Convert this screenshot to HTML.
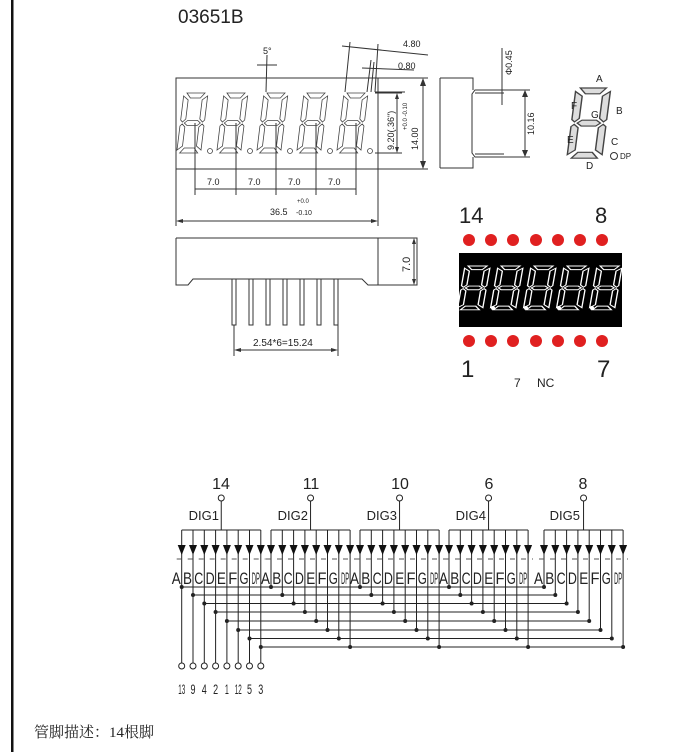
<!DOCTYPE html>
<html><head><meta charset="utf-8"><style>
html,body{margin:0;padding:0;background:#fff;}
svg{display:block;}
text{font-family:"Liberation Sans",sans-serif;fill:#222;}
</style></head><body>
<svg width="698" height="752" viewBox="0 0 698 752" xmlns="http://www.w3.org/2000/svg">
<defs>
<g id="seg">
<polygon points="3,0 21,0 17,5 7,5"/>
<polygon points="7,55 17,55 21,60 3,60"/>
<polygon points="4,30 7,27.5 17,27.5 20,30 17,32.5 7,32.5"/>
<polygon points="0,3 5,7 5,26 2,29 0,27"/>
<polygon points="24,3 24,27 22,29 19,26 19,7"/>
<polygon points="0,33 2,31 5,34 5,53 0,57"/>
<polygon points="24,33 24,57 19,53 19,34 22,31"/>
</g>
<g id="grp">
<line x1="0" y1="530" x2="79.1" y2="530" stroke="#222" stroke-width="1"/>
<line x1="39.55" y1="501" x2="39.55" y2="530" stroke="#222"/>
<circle cx="39.55" cy="498" r="3" fill="#fff" stroke="#222"/>
<g stroke="#222" stroke-width="1">
<line x1="0" y1="530" x2="0" y2="587"/><line x1="11.3" y1="530" x2="11.3" y2="595"/><line x1="22.6" y1="530" x2="22.6" y2="603.5"/><line x1="33.9" y1="530" x2="33.9" y2="612"/><line x1="45.2" y1="530" x2="45.2" y2="621"/><line x1="56.5" y1="530" x2="56.5" y2="630"/><line x1="67.8" y1="530" x2="67.8" y2="638.5"/><line x1="79.1" y1="530" x2="79.1" y2="647"/>
</g>
<g fill="#111">
<polygon points="-4,545 4,545 0,555"/><polygon points="7.3,545 15.3,545 11.3,555"/><polygon points="18.6,545 26.6,545 22.6,555"/><polygon points="29.9,545 37.9,545 33.9,555"/><polygon points="41.2,545 49.2,545 45.2,555"/><polygon points="52.5,545 60.5,545 56.5,555"/><polygon points="63.8,545 71.8,545 67.8,555"/><polygon points="75.1,545 83.1,545 79.1,555"/>
</g>
<line x1="-5" y1="559" x2="84" y2="559" stroke="#555" stroke-width="1" stroke-dasharray="5,6"/>
<g font-size="17" text-anchor="end">
<text x="-1" y="584" textLength="9" lengthAdjust="spacingAndGlyphs">A</text><text x="10.3" y="584" textLength="9" lengthAdjust="spacingAndGlyphs">B</text><text x="21.6" y="584" textLength="9" lengthAdjust="spacingAndGlyphs">C</text><text x="32.9" y="584" textLength="9" lengthAdjust="spacingAndGlyphs">D</text><text x="44.2" y="584" textLength="9" lengthAdjust="spacingAndGlyphs">E</text><text x="55.5" y="584" textLength="9" lengthAdjust="spacingAndGlyphs">F</text><text x="66.8" y="584" textLength="9" lengthAdjust="spacingAndGlyphs">G</text><text x="78.1" y="584" textLength="8" lengthAdjust="spacingAndGlyphs">DP</text>
</g>
<g fill="#222">
<circle cx="0" cy="587" r="2"/><circle cx="11.3" cy="595" r="2"/><circle cx="22.6" cy="603.5" r="2"/><circle cx="33.9" cy="612" r="2"/><circle cx="45.2" cy="621" r="2"/><circle cx="56.5" cy="630" r="2"/><circle cx="67.8" cy="638.5" r="2"/><circle cx="79.1" cy="647" r="2"/>
</g>
</g>
</defs>

<rect x="11" y="0" width="2.5" height="752" fill="#111"/>
<text x="178" y="23" font-size="19">03651B</text>

<!-- front view -->
<g stroke="#333" fill="none" stroke-width="1">
<rect x="176" y="78" width="202" height="91"/>
<line x1="378" y1="78" x2="428" y2="78"/><line x1="378" y1="169" x2="428" y2="169"/>
<line x1="423" y1="80" x2="423" y2="167"/>
<line x1="375" y1="93" x2="402" y2="93"/><line x1="375" y1="153" x2="402" y2="153"/>
<line x1="397" y1="95" x2="397" y2="151"/>
<line x1="176" y1="169" x2="176" y2="226"/><line x1="378" y1="140" x2="378" y2="226"/>
<line x1="178" y1="221" x2="376" y2="221"/>
<line x1="195" y1="123" x2="195" y2="195"/><line x1="236" y1="123" x2="236" y2="195"/><line x1="276" y1="123" x2="276" y2="195"/><line x1="316" y1="123" x2="316" y2="195"/><line x1="356" y1="123" x2="356" y2="195"/>
<line x1="195" y1="189" x2="356" y2="189"/>
<line x1="267" y1="55" x2="266" y2="92"/><line x1="257" y1="65" x2="277" y2="65"/>
<line x1="342" y1="46" x2="428" y2="55"/><line x1="350" y1="42" x2="345" y2="92"/><line x1="378" y1="44" x2="375" y2="92"/>
<line x1="362" y1="68" x2="414" y2="70"/><line x1="371" y1="60" x2="367" y2="92"/><line x1="374" y1="62" x2="371" y2="92"/>
<line x1="375" y1="92" x2="405" y2="92"/>
</g>
<g fill="#333"><polygon points="423,78 420,86 426,86"/><polygon points="423,169 420,161 426,161"/><polygon points="397,93 395,99 399,99"/><polygon points="397,153 395,147 399,147"/><polygon points="176,221 183,219 183,223"/><polygon points="378,221 371,219 371,223"/></g>
<g fill="none" stroke="#444" stroke-width="0.8">
<use href="#seg" transform="translate(184,93) skewX(-7)"/>
<use href="#seg" transform="translate(224,93) skewX(-7)"/>
<use href="#seg" transform="translate(264,93) skewX(-7)"/>
<use href="#seg" transform="translate(304,93) skewX(-7)"/>
<use href="#seg" transform="translate(344,93) skewX(-7)"/>
<circle cx="210" cy="151" r="2.5"/><circle cx="250" cy="151" r="2.5"/><circle cx="290" cy="151" r="2.5"/><circle cx="330" cy="151" r="2.5"/><circle cx="370" cy="151" r="2.5"/>
</g>
<g font-size="9"><text x="207" y="185">7.0</text><text x="248" y="185">7.0</text><text x="288" y="185">7.0</text><text x="328" y="185">7.0</text>
<text x="297" y="203" font-size="6">+0.0</text><text x="270" y="215">36.5</text><text x="296" y="215" font-size="7">-0.10</text>
<text x="263" y="54">5°</text><text x="403" y="47">4.80</text><text x="398" y="69">0.80</text>
<text transform="translate(394,150) rotate(-90)">9.20(.36")</text>
<text transform="translate(418,150) rotate(-90)">14.00</text>
<text transform="translate(407,130) rotate(-90)" font-size="6">+0.0 -0.10</text>
</g>

<!-- side view -->
<g stroke="#333" fill="none" stroke-width="1">
<polyline points="440,78 473,78 473,90"/><polyline points="440,168 473,168 473,157"/>
<line x1="440" y1="78" x2="440" y2="168"/>
<polyline points="504,90 475,90 472,94 472,153 475,157 504,157"/>
<line x1="475" y1="93" x2="504" y2="93"/><line x1="475" y1="154" x2="504" y2="154"/>
<line x1="502" y1="48" x2="502" y2="105"/>
<line x1="500" y1="90" x2="530" y2="90"/><line x1="500" y1="157" x2="530" y2="157"/>
<line x1="525" y1="91" x2="525" y2="156"/>
</g>
<g fill="#333"><polygon points="525,90 522,97 528,97"/><polygon points="525,157 522,150 528,150"/></g>
<g font-size="9"><text transform="translate(512,75) rotate(-90)">Φ0.45</text><text transform="translate(534,135) rotate(-90)">10.16</text></g>

<!-- segment diagram -->
<g fill="#ddd" stroke="#444" stroke-width="1"><use href="#seg" transform="translate(576,88) scale(1.45,1.17) skewX(-6)"/></g>
<circle cx="614" cy="156" r="3.5" fill="none" stroke="#333"/>
<g font-size="10"><text x="596" y="82">A</text><text x="571" y="109">F</text><text x="616" y="114">B</text><text x="591" y="118">G</text><text x="567" y="143">E</text><text x="611" y="145">C</text><text x="620" y="159" font-size="8">DP</text><text x="586" y="169">D</text></g>

<!-- bottom side view -->
<g stroke="#333" fill="none" stroke-width="1">
<polyline points="176,238 378,238"/>
<polyline points="176,238 176,285 188,285 193,279 362,279 368,285 378,285"/>
<rect x="378" y="238" width="39" height="47"/>
<line x1="414" y1="240" x2="414" y2="283"/>
<line x1="234" y1="279" x2="234" y2="356"/><line x1="338" y1="279" x2="338" y2="356"/>
<line x1="236" y1="350" x2="336" y2="350"/>
</g>
<g fill="#fff" stroke="#333" stroke-width="1">
<rect x="232" y="279" width="4" height="46"/><rect x="249" y="279" width="4" height="46"/><rect x="266" y="279" width="4" height="46"/><rect x="283" y="279" width="4" height="46"/><rect x="300" y="279" width="4" height="46"/><rect x="317" y="279" width="4" height="46"/><rect x="334" y="279" width="4" height="46"/>
</g>
<g fill="#333"><polygon points="234,350 241,348 241,352"/><polygon points="338,350 331,348 331,352"/><polygon points="414,238 412,244 416,244"/><polygon points="414,285 412,279 416,279"/></g>
<text x="253" y="346" font-size="10" font-family="Liberation Mono">2.54*6=15.24</text>
<text transform="translate(410,272) rotate(-90)" font-size="11" font-family="Liberation Mono">7.0</text>

<!-- red display -->
<text x="459" y="223" font-size="22">14</text><text x="595" y="223" font-size="22">8</text>
<g fill="#e02020"><circle cx="469" cy="240" r="6"/><circle cx="491" cy="240" r="6"/><circle cx="513" cy="240" r="6"/><circle cx="536" cy="240" r="6"/><circle cx="558" cy="240" r="6"/><circle cx="580" cy="240" r="6"/><circle cx="602" cy="240" r="6"/>
<circle cx="469" cy="341" r="6"/><circle cx="491" cy="341" r="6"/><circle cx="513" cy="341" r="6"/><circle cx="536" cy="341" r="6"/><circle cx="558" cy="341" r="6"/><circle cx="580" cy="341" r="6"/><circle cx="602" cy="341" r="6"/></g>
<rect x="459" y="253" width="163" height="74" fill="#000"/>
<g fill="none" stroke="#fff" stroke-width="1.3">
<use href="#seg" transform="translate(465,266) scale(1.05,0.73) skewX(-7)"/>
<use href="#seg" transform="translate(498,266) scale(1.05,0.73) skewX(-7)"/>
<use href="#seg" transform="translate(531,266) scale(1.05,0.73) skewX(-7)"/>
<use href="#seg" transform="translate(564,266) scale(1.05,0.73) skewX(-7)"/>
<use href="#seg" transform="translate(597,266) scale(1.05,0.73) skewX(-7)"/>
</g>
<g fill="#fff"><circle cx="493" cy="308" r="2"/><circle cx="526" cy="308" r="2"/><circle cx="559" cy="308" r="2"/><circle cx="592" cy="308" r="2"/><circle cx="625" cy="308" r="2"/></g>
<text x="461" y="377" font-size="24">1</text><text x="597" y="377" font-size="24">7</text>
<text x="514" y="387" font-size="12">7</text><text x="537" y="387" font-size="12">NC</text>

<!-- schematic -->
<use href="#grp" transform="translate(181.7,0)"/>
<use href="#grp" transform="translate(271,0)"/>
<use href="#grp" transform="translate(360,0)"/>
<use href="#grp" transform="translate(449,0)"/>
<use href="#grp" transform="translate(544,0)"/>
<g stroke="#222" stroke-width="1">
<line x1="181.7" y1="587" x2="544" y2="587"/><line x1="193" y1="595" x2="555.3" y2="595"/><line x1="204.3" y1="603.5" x2="566.6" y2="603.5"/><line x1="215.6" y1="612" x2="577.9" y2="612"/><line x1="226.9" y1="621" x2="589.2" y2="621"/><line x1="238.2" y1="630" x2="600.5" y2="630"/><line x1="249.5" y1="638.5" x2="611.8" y2="638.5"/><line x1="260.8" y1="647" x2="623.1" y2="647"/>
<line x1="181.7" y1="587" x2="181.7" y2="663"/><line x1="193" y1="595" x2="193" y2="663"/><line x1="204.3" y1="603" x2="204.3" y2="663"/><line x1="215.6" y1="612" x2="215.6" y2="663"/><line x1="226.9" y1="621" x2="226.9" y2="663"/><line x1="238.2" y1="630" x2="238.2" y2="663"/><line x1="249.5" y1="638" x2="249.5" y2="663"/><line x1="260.8" y1="647" x2="260.8" y2="663"/>
</g>
<g fill="#fff" stroke="#222"><circle cx="181.7" cy="666" r="3"/><circle cx="193" cy="666" r="3"/><circle cx="204.3" cy="666" r="3"/><circle cx="215.6" cy="666" r="3"/><circle cx="226.9" cy="666" r="3"/><circle cx="238.2" cy="666" r="3"/><circle cx="249.5" cy="666" r="3"/><circle cx="260.8" cy="666" r="3"/></g>
<g font-size="14" text-anchor="middle">
<text x="181.7" y="694" textLength="7" lengthAdjust="spacingAndGlyphs">13</text><text x="193" y="694" textLength="5" lengthAdjust="spacingAndGlyphs">9</text><text x="204.3" y="694" textLength="5" lengthAdjust="spacingAndGlyphs">4</text><text x="215.6" y="694" textLength="5" lengthAdjust="spacingAndGlyphs">2</text><text x="226.9" y="694" textLength="4" lengthAdjust="spacingAndGlyphs">1</text><text x="238.2" y="694" textLength="7" lengthAdjust="spacingAndGlyphs">12</text><text x="249.5" y="694" textLength="5" lengthAdjust="spacingAndGlyphs">5</text><text x="260.8" y="694" textLength="5" lengthAdjust="spacingAndGlyphs">3</text>
</g>
<g font-size="16" text-anchor="middle">
<text x="221" y="489">14</text><text x="311" y="489">11</text><text x="400" y="489">10</text><text x="489" y="489">6</text><text x="583" y="489">8</text>
</g>
<g font-size="13" text-anchor="end">
<text x="219" y="520">DIG1</text><text x="308" y="520">DIG2</text><text x="397" y="520">DIG3</text><text x="486" y="520">DIG4</text><text x="580" y="520">DIG5</text>
</g>

<text x="34" y="737" font-size="15" style="font-family:'Liberation Serif','Noto Serif CJK SC',serif">管脚描述：14根脚</text>
</svg>
</body></html>
